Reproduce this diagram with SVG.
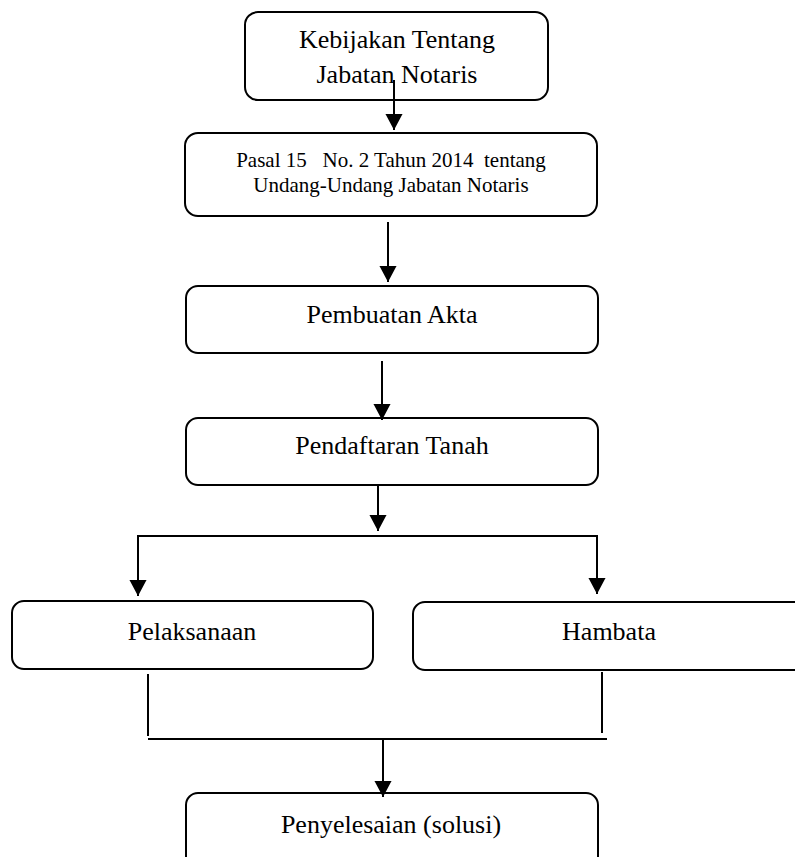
<svg xmlns="http://www.w3.org/2000/svg" width="795" height="857" viewBox="0 0 795 857">
<style>
  .box { fill: #ffffff; stroke: #000000; stroke-width: 2; }
  .t { font-family: "Liberation Serif", "Times New Roman", serif; font-size: 26px; fill: #000000; text-anchor: middle; white-space: pre; }
  .ts { font-size: 21px; }
  .ln { fill: none; stroke: #000000; stroke-width: 2; }
</style>
<defs>
  <marker id="ah" markerUnits="userSpaceOnUse" markerWidth="16" markerHeight="18" refX="15" refY="8" orient="auto" viewBox="0 0 15 16">
    <path d="M0,0 L15,8 L0,16 Z" fill="#000000"/>
  </marker>
</defs>
<rect width="795" height="857" fill="#ffffff"/>
<g id="n1">
  <rect class="box" x="245" y="12" width="303" height="88" rx="13"/>
  <text class="t" x="397" y="48">Kebijakan Tentang</text>
  <text class="t" x="397" y="83">Jabatan Notaris</text>
</g>
<g id="n2">
  <rect class="box" x="185" y="133" width="412" height="83" rx="13"/>
  <text class="t ts" x="391" y="167">Pasal 15   No. 2 Tahun 2014  tentang</text>
  <text class="t ts" x="391" y="192">Undang-Undang Jabatan Notaris</text>
</g>
<g id="n3">
  <rect class="box" x="186" y="286" width="412" height="67" rx="12"/>
  <text class="t" x="392" y="323">Pembuatan Akta</text>
</g>
<g id="n4">
  <rect class="box" x="186" y="418" width="412" height="67" rx="12"/>
  <text class="t" x="392" y="454">Pendaftaran Tanah</text>
</g>
<g id="n5">
  <rect class="box" x="12" y="601" width="361" height="68" rx="12"/>
  <text class="t" x="192" y="640">Pelaksanaan</text>
</g>
<g id="n6">
  <rect class="box" x="413" y="602" width="400" height="68" rx="12"/>
  <text class="t" x="609" y="640">Hambata</text>
</g>
<g id="n7">
  <rect class="box" x="186" y="793" width="412" height="80" rx="12"/>
  <text class="t" x="391" y="833">Penyelesaian (solusi)</text>
</g>
<g id="connectors">
  <line class="ln" x1="394" y1="80" x2="394" y2="130" marker-end="url(#ah)"/>
  <line class="ln" x1="388" y1="222" x2="388" y2="282" marker-end="url(#ah)"/>
  <line class="ln" x1="382" y1="361" x2="382" y2="420" marker-end="url(#ah)"/>
  <line class="ln" x1="378" y1="485" x2="378" y2="531" marker-end="url(#ah)"/>
  <line class="ln" x1="137" y1="536" x2="598" y2="536"/>
  <line class="ln" x1="138" y1="535" x2="138" y2="596" marker-end="url(#ah)"/>
  <line class="ln" x1="597" y1="535" x2="597" y2="594" marker-end="url(#ah)"/>
  <line class="ln" x1="148" y1="674" x2="148" y2="736"/>
  <line class="ln" x1="602" y1="672" x2="602" y2="733"/>
  <line class="ln" x1="148" y1="739" x2="607" y2="739"/>
  <line class="ln" x1="383" y1="738" x2="383" y2="797" marker-end="url(#ah)"/>
</g>
</svg>
